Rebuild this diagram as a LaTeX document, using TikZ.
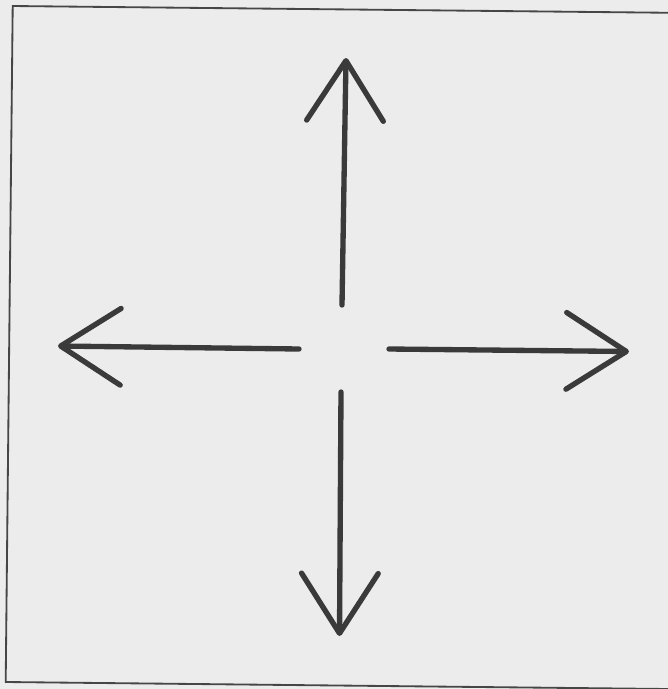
\documentclass[tikz,border=0pt]{standalone}
\usepackage{tikz}
\usepackage{xcolor}
\usetikzlibrary{arrows.meta}
\definecolor{cPaper}{RGB}{236,236,236}
\definecolor{cInk}{RGB}{58,58,58}
\definecolor{cFrame}{RGB}{70,70,70}
\tikzset{
	frameline/.style={draw=cFrame, line width=0.055cm, line join=miter},
	outarrow/.style ={-{Straight Barb[length=1.8cm, width=2.3cm, round]}, line width=0.16cm, draw=cInk, line cap=round},
}

\begin{document}
\begin{tikzpicture}[x=0.03cm, y=-0.03cm]
	% page and frame (slightly tilted scan)
	\useasboundingbox (0,0) rectangle (668,689);
	\clip (0,0) rectangle (668,689);
	\fill[cPaper] (0,0) rectangle (668,689);
	\coordinate (fTR) at (672,12.8);
	\coordinate (fTL) at (12.7,6);
	\coordinate (fBL) at (5.7,682);
	\coordinate (fBR) at (668,689);
	\draw[frameline] (fTR) -- (fTL) -- (fBL) -- (fBR);
	% arrow ends
	\coordinate (upS) at (342,305);   \coordinate (upT) at (346,58);
	\coordinate (dnS) at (341,392);   \coordinate (dnT) at (339.5,636);
	\coordinate (ltS) at (299,349);   \coordinate (ltT) at (58,346);
	\coordinate (rtS) at (389,349);   \coordinate (rtT) at (629,351.5);
	\draw[outarrow] (upS) -- (upT);
	\draw[outarrow] (dnS) -- (dnT);
	\draw[outarrow] (ltS) -- (ltT);
	\draw[outarrow] (rtS) -- (rtT);
\end{tikzpicture}
\end{document}
